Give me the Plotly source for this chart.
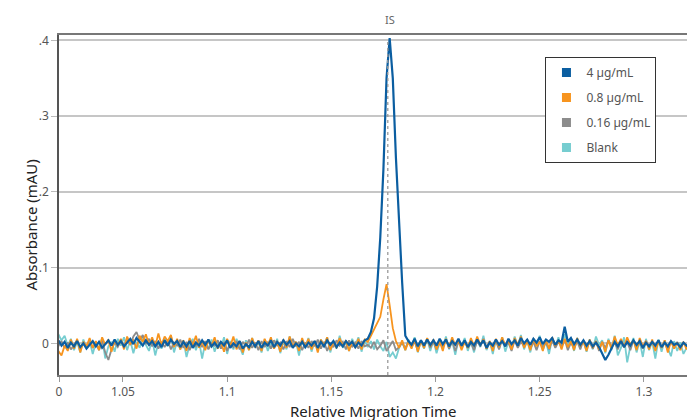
import plotly.graph_objects as go

# ---------------- data ----------------
t_start = 1.019      # relative migration time of first sample
t_step = 0.0015      # sampling interval (relative migration time)
is_time = 1.1771     # internal standard marker position
is_label_time = 1.178

series_names = ["4 µg/mL", "0.8 µg/mL", "0.16 µg/mL", "Blank"]
series_colors = ["#0b5ea1", "#f7941e", "#8c8c8c", "#76cdd0"]

abs_4 = [
    .004, -.003, .002, -.006, .001, -.004, .003, -.005, .000, -.007,
    -.002, .003, -.004, .002, -.006, -.001, .004, -.003, .005, -.002,
    .003, -.004, .001, .006, -.001, .007, .002, -.003, .004, -.002,
    .003, -.004, .002, -.005, .004, -.003, .005, -.001, .003, -.005,
    .002, -.004, .003, -.006, .001, -.003, .004, -.002, .005, -.004,
    .001, -.005, .002, -.003, .004, -.006, .000, -.004, .003, -.007,
    -.001, -.005, .002, -.004, .003, -.006, .001, -.003, .004, -.005,
    .002, -.003, .004, -.002, .003, -.006, .000, -.004, .002, -.005,
    .001, -.003, .003, -.006, .002, -.004, .004, -.002, .003, -.005,
    .001, -.004, .003, -.002, .002, -.005, .001, -.003, .004, .006,
    .015, .033, .075, .14, .23, .35, .403, .35, .245, .155,
    .08, .01, .003, -.002, .006, -.004, .004, -.003, .005, -.002,
    .004, -.003, .006, -.001, .005, -.004, .003, -.002, .006, -.003,
    .004, -.005, .002, -.003, .005, -.002, .004, -.006, .001, -.003,
    .005, -.002, .003, -.004, .006, -.001, .004, -.003, .007, .000,
    .005, -.002, .006, .001, .008, -.001, .005, .002, .007, -.002,
    .004, .001, .022, .002, .007, -.001, .005, -.002, .004, -.003,
    .003, -.004, .001, -.005, -.013, -.022, -.015, -.006, .002, -.004,
    .003, -.005, .002, -.003, .004, -.002, .003, -.006, .001, -.004,
    .002, -.003, .004, -.005, .001, -.004, .003, -.002, .000, -.005,
    .001, -.003, .000,
]

abs_08 = [
    -.010, -.016, -.003, -.010, .005, -.007, .006, -.012, .002, -.004,
    .007, -.006, .003, -.009, .008, -.002, .005, -.011, .004, -.003,
    .006, -.008, .009, -.001, .004, -.007, .010, .002, .012, -.003,
    .008, -.004, .013, -.002, .009, .003, .011, -.005, .006, -.008,
    .004, -.010, .007, -.003, .010, -.006, .003, -.009, .005, -.004,
    .008, -.007, .002, -.011, .006, -.004, .009, -.008, .003, -.012,
    .001, -.009, .007, -.005, .004, -.010, .006, -.003, .008, -.007,
    .003, -.011, .005, -.006, .009, -.004, .002, -.010, .007, -.005,
    .006, -.008, .003, -.012, .005, -.003, .008, -.009, .002, -.006,
    .007, -.004, .004, -.010, .003, -.006, .006, -.008, .005, .002,
    .010, .018, .025, .035, .058, .078, .050, .020, .003, -.006,
    .004, -.009, .002, -.007, .005, -.011, .003, -.006, .007, -.004,
    .005, -.008, .003, -.010, .006, -.005, .008, -.003, .004, -.009,
    .002, -.006, .007, -.004, .009, -.002, .005, -.007, .003, -.010,
    .006, -.005, .008, -.003, .004, -.008, .007, -.002, .009, -.006,
    .003, -.009, .006, -.004, .002, -.010, .005, -.007, .008, -.003,
    .004, -.008, .006, -.005, .003, -.009, .007, -.004, .002, -.010,
    .005, -.006, .003, -.008, .002, -.011, .004, -.007, .009, -.003,
    .006, -.005, .008, -.002, .004, -.009, .007, -.004, .003, -.008,
    .005, -.010, .002, -.006, .004, -.012, .003, -.007, .001, -.009,
    .002, -.008, .000,
]

abs_016 = [
    -.004, .003, -.006, .001, -.008, -.002, .004, -.007, .000, -.005,
    .002, -.006, .001, -.009, .003, -.012, -.022, -.008, .001, -.005,
    .003, -.004, .006, -.002, .009, .015, .004, .011, -.001, .006,
    -.004, .003, -.007, .002, -.005, .004, -.008, .001, -.003, .005,
    -.006, .002, -.009, .001, -.004, .006, -.005, .003, -.008, .000,
    -.003, .004, -.007, .002, -.010, .001, -.005, .003, -.008, .002,
    -.004, .005, -.006, .001, -.009, .003, -.005, .002, -.007, .004,
    -.003, .001, -.008, .003, -.005, .006, -.004, .002, -.009, .001,
    -.006, .003, -.004, .005, -.007, .002, -.010, .001, -.005, .004,
    -.003, .002, -.008, .004, -.005, .001, -.007, .003, -.004, -.002,
    -.006, .002, -.008, -.003, .004, -.010, -.004, .003, -.009, -.005,
    .001, -.007, .003, -.005, .002, -.009, .004, -.003, .006, -.006,
    .002, -.008, .001, -.004, .005, -.007, .003, -.010, .002, -.005,
    .004, -.006, .001, -.009, .003, -.004, .006, -.007, .002, -.005,
    .003, -.008, .005, -.003, .001, -.010, .004, -.006, .002, -.004,
    .005, -.007, .002, -.009, .003, -.005, .001, -.008, .004, -.006,
    .002, -.004, .005, -.009, .001, -.006, .003, -.008, .004, -.005,
    .001, -.007, .003, -.010, .002, -.006, .004, -.004, .001, -.008,
    .003, -.005, .002, -.009, .004, -.006, .001, -.007, .003, -.004,
    .002, -.008, .004, -.005, .001, -.009, .003, -.006, .002, -.007,
    .001, -.005, .000,
]

abs_blank = [
    .012, .004, .010, -.003, .006, -.009, .002, -.012, .005, -.006,
    .003, -.014, .001, -.008, .007, -.020, -.004, .002, -.011, .006,
    -.003, .008, -.009, .004, -.013, .002, -.006, .009, -.002, -.010,
    .005, -.016, .001, -.007, .006, -.004, .010, -.012, .003, -.008,
    .004, -.018, -.002, .006, -.009, .003, -.020, .001, -.007, .005,
    -.011, .002, -.006, .008, -.014, .003, -.008, .006, -.004, -.015,
    .004, -.009, .007, -.006, .002, -.012, .005, -.010, .001, -.007,
    .006, -.013, .003, -.008, .009, -.005, .002, -.016, .004, -.006,
    .007, -.011, .002, -.009, .005, -.004, .008, -.012, .003, -.007,
    .010, -.006, .002, -.010, .006, -.003, .008, -.011, .004, -.005,
    .003, -.008, .005, -.004, -.010, .002, -.018, -.012, -.020, -.006,
    .002, -.009, .005, -.004, .008, -.012, .003, -.007, .006, -.010,
    .004, -.013, .001, -.006, .009, -.008, .003, -.015, .005, -.004,
    .007, -.010, .002, -.012, .006, -.005, .010, -.009, .003, -.014,
    .005, -.007, .008, -.011, .002, -.006, .009, -.004, .011, -.008,
    .004, -.012, .006, -.003, .010, -.009, .002, -.014, .007, -.005,
    .008, -.006, .012, -.003, .005, -.010, .007, -.004, .003, -.011,
    .005, -.008, .009, -.002, .004, -.013, .006, -.009, .010, -.016,
    -.006, .008, -.025, -.004, .007, -.012, .003, -.018, .006, -.009,
    .002, -.020, .005, -.011, .004, -.008, -.017, .003, -.010, .001,
    -.014, -.006, .002,
]

x_tick_vals = [1.0193, 1.05, 1.1, 1.15, 1.2, 1.25, 1.3]
x_tick_text = ["0", "1.05", "1.1", "1.15", "1.2", "1.25", "1.3"]
y_tick_vals = [0, 0.1, 0.2, 0.3, 0.4]
y_tick_text = ["0", ".1", ".2", ".3", ".4"]
x_range = [1.0193, 1.3207]
y_range = [-0.0418, 0.407]

# ---------------- figure ----------------
times = [t_start + t_step * i for i in range(len(abs_4))]
values = [abs_4, abs_08, abs_016, abs_blank]

FONT = "Noto Sans"
fig = go.Figure()

# draw blank first so 4 µg/mL is on top
for idx in [3, 2, 1, 0]:
    fig.add_trace(go.Scatter(
        x=times, y=values[idx], mode="lines", name=series_names[idx],
        line=dict(color=series_colors[idx], width=2.2 if idx == 0 else 1.8),
        showlegend=False, hoverinfo="skip",
    ))

# legend entries with square swatches
for idx in range(4):
    fig.add_trace(go.Scatter(
        x=[None], y=[None], mode="markers", name=series_names[idx],
        marker=dict(symbol="square", size=9, color=series_colors[idx]),
        legendgroup=series_names[idx], showlegend=True,
    ))

fig.add_shape(type="line", xref="x", yref="paper", x0=is_time, x1=is_time,
              y0=0, y1=0.983, line=dict(color="#9a9a9a", width=1.3, dash="3px,3px"))

fig.add_annotation(x=is_label_time, xref="x", y=1.047, yref="paper", text="IS",
                   showarrow=False, font=dict(family=FONT, size=11, color="#666666"),
                   yanchor="middle")
fig.add_annotation(x=-0.063, xref="paper", y=0.441, yref="paper",
                   text="Absorbance (mAU)", textangle=-90, showarrow=False,
                   font=dict(family=FONT, size=15, color="#222222"))
fig.add_annotation(x=0.5, xref="paper", y=-0.106, yref="paper",
                   text="Relative Migration Time", showarrow=False,
                   font=dict(family=FONT, size=15, color="#222222"), yanchor="middle")

fig.update_layout(
    width=687, height=420,
    margin=dict(l=59, r=0, t=35, b=45),
    paper_bgcolor="white", plot_bgcolor="white",
    font=dict(family=FONT, size=12, color="#555555"),
    showlegend=True,
    legend=dict(x=0.863, xanchor="center", y=0.935, yanchor="top",
                bordercolor="#333333", borderwidth=1, bgcolor="white",
                traceorder="grouped", tracegroupgap=6, itemwidth=30,
                font=dict(family=FONT, size=12, color="#555555")),
    xaxis=dict(range=x_range, tickvals=x_tick_vals, ticktext=x_tick_text,
               showgrid=False, zeroline=False, showline=True, mirror=True,
               linecolor="#777777", linewidth=1.5, ticks="outside", ticklen=5,
               tickcolor="#999999", tickfont=dict(family=FONT, size=12, color="#555555")),
    yaxis=dict(range=y_range, tickvals=y_tick_vals, ticktext=y_tick_text,
               showgrid=True, gridcolor="#c6c6c6", gridwidth=1.5, zeroline=False,
               showline=True, linecolor="#555555", linewidth=1.5, ticks="outside",
               ticklen=6, tickcolor="#bbbbbb",
               tickfont=dict(family=FONT, size=12, color="#555555")),
)

fig.write_html("out.html")
